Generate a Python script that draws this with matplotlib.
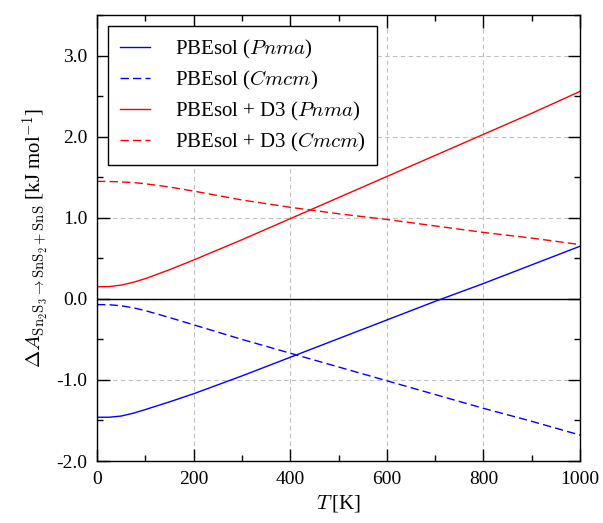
import numpy as np
import matplotlib
matplotlib.use("Agg")
import matplotlib.pyplot as plt
from matplotlib.ticker import MultipleLocator, FormatStrFormatter

plt.rcParams['font.family'] = ['Liberation Serif', 'DejaVu Serif']
plt.rcParams['mathtext.fontset'] = 'cm'
plt.rcParams['axes.unicode_minus'] = False

# temperature grid (K)
T = [0, 25, 50, 75, 100, 150, 200, 300, 400, 500, 600, 700, 800, 900, 1000]

# Helmholtz free energy differences (kJ/mol)
pbesol_pnma = [-1.46, -1.46, -1.445, -1.41, -1.365, -1.27, -1.17, -0.95, -0.72, -0.49, -0.26, -0.03, 0.19, 0.42, 0.65]
pbesol_cmcm = [-0.07, -0.072, -0.085, -0.11, -0.145, -0.23, -0.32, -0.50, -0.67, -0.84, -1.01, -1.18, -1.35, -1.51, -1.68]
d3_pnma = [0.15, 0.152, 0.17, 0.205, 0.25, 0.36, 0.48, 0.73, 0.99, 1.25, 1.51, 1.77, 2.03, 2.29, 2.56]
d3_cmcm = [1.45, 1.448, 1.443, 1.435, 1.42, 1.38, 1.33, 1.22, 1.13, 1.05, 0.98, 0.90, 0.82, 0.75, 0.67]

labels = [r"PBEsol ($Pnma$)", r"PBEsol ($Cmcm$)",
          r"PBEsol + D3 ($Pnma$)", r"PBEsol + D3 ($Cmcm$)"]

fig = plt.figure(figsize=(6.03, 5.23), dpi=100)
ax = fig.add_axes([0.161, 0.1185, 0.801, 0.8525])

ax.axhline(0, color="black", linewidth=1.0, zorder=1)
ax.plot(T, pbesol_pnma, color="blue", linestyle="-", linewidth=1.0, label=labels[0])
ax.plot(T, pbesol_cmcm, color="blue", linestyle=(0, (6, 3)), linewidth=1.0, label=labels[1])
ax.plot(T, d3_pnma, color="red", linestyle="-", linewidth=1.0, label=labels[2])
ax.plot(T, d3_cmcm, color="red", linestyle=(0, (6, 3)), linewidth=1.0, label=labels[3])

ax.set_xlim(0, 1000)
ax.set_ylim(-2.0, 3.5)
ax.xaxis.set_major_locator(MultipleLocator(200))
ax.xaxis.set_minor_locator(MultipleLocator(100))
ax.yaxis.set_major_locator(MultipleLocator(1.0))
ax.yaxis.set_minor_locator(MultipleLocator(0.5))
ax.yaxis.set_major_formatter(FormatStrFormatter("%.1f"))

ax.grid(True, which="major", color="#c0c0c0", linestyle=(0, (4, 3)), linewidth=0.8)
ax.set_axisbelow(True)

ax.tick_params(which="both", direction="in", top=True, right=True, labelsize=14, width=1.0)
ax.tick_params(which="major", length=9, pad=7)
ax.tick_params(which="minor", length=4.5)
for s in ax.spines.values():
    s.set_linewidth(1.0)

ax.set_xlabel(r"$T\,$[K]", fontsize=15)
ax.set_ylabel(r"$\Delta A_{\mathrm{Sn_2S_3 \rightarrow SnS_2 + SnS}}$ [kJ mol$^{-1}$]", fontsize=15)

leg = ax.legend(loc="upper left", bbox_to_anchor=(0.023, 0.975), borderaxespad=0.0,
                fontsize=15, frameon=True, fancybox=False, edgecolor="black",
                framealpha=1.0, handlelength=1.45, handletextpad=1.2,
                borderpad=0.55, labelspacing=0.38)
leg.get_frame().set_linewidth(1.0)

fig.savefig("out.png", dpi=100)
